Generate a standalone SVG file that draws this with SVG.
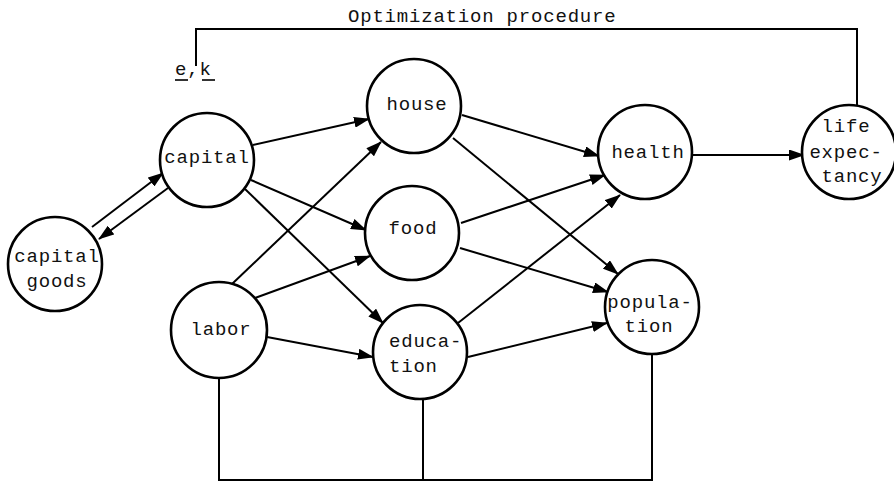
<svg xmlns="http://www.w3.org/2000/svg" width="894" height="482" viewBox="0 0 894 482">
<style>
.node{fill:#fff;stroke:#000;stroke-width:2.6}
.t{font-family:"Liberation Mono","DejaVu Sans Mono",monospace;font-size:19px;letter-spacing:0.8px;fill:#111}
.c{stroke:#000;stroke-width:2;fill:none}
.a{marker-end:url(#ah)}
</style>
<defs>
<marker id="ah" markerUnits="userSpaceOnUse" markerWidth="16" markerHeight="11" refX="15" refY="5.5" orient="auto">
<path d="M0,0 L16,5.5 L0,11 z" fill="#000"/>
</marker>
</defs>
<g id="connectors">
<polyline class="c" points="196,66 196,29 857,29 857,105"/>
<polyline class="c" points="219,378 219,480 652,480 652,355"/>
<line class="c" x1="423" y1="400" x2="423" y2="480"/>
<line class="c a" x1="92" y1="227" x2="163" y2="173"/>
<line class="c a" x1="168" y1="188" x2="99" y2="239"/>
<line class="c a" x1="253" y1="145" x2="369" y2="119"/>
<line class="c a" x1="251" y1="180" x2="366" y2="230"/>
<line class="c a" x1="245" y1="189" x2="383" y2="323"/>
<line class="c a" x1="232" y1="284" x2="381" y2="142"/>
<line class="c a" x1="255" y1="298" x2="370" y2="256"/>
<line class="c a" x1="267" y1="337" x2="373" y2="357"/>
<line class="c a" x1="462" y1="115" x2="599" y2="156"/>
<line class="c a" x1="453" y1="138" x2="618" y2="274"/>
<line class="c a" x1="461" y1="223" x2="605" y2="175"/>
<line class="c a" x1="460" y1="248" x2="608" y2="292"/>
<line class="c a" x1="458" y1="323" x2="620" y2="195"/>
<line class="c a" x1="468" y1="357" x2="607" y2="323"/>
<line class="c a" x1="693" y1="155" x2="804" y2="155"/>
</g>
<g id="optimization">
<text class="t" x="348" y="22">Optimization procedure</text>
</g>
<g id="ek">
<text class="t" x="175" y="75">e,k</text>
<line x1="175" y1="80" x2="188" y2="80" stroke="#000" stroke-width="1.6"/>
<line x1="202" y1="80" x2="215" y2="80" stroke="#000" stroke-width="1.6"/>
</g>
<g id="capital">
<circle class="node" cx="207" cy="160" r="47"/>
<text class="t" x="207" y="163" text-anchor="middle">capital</text>
</g>
<g id="capital-goods">
<circle class="node" cx="55" cy="264" r="47"/>
<text class="t" x="57" y="262" text-anchor="middle">capital</text>
<text class="t" x="57" y="287" text-anchor="middle">goods</text>
</g>
<g id="labor">
<circle class="node" cx="219" cy="330" r="48"/>
<text class="t" x="221" y="335" text-anchor="middle">labor</text>
</g>
<g id="house">
<circle class="node" cx="414" cy="106" r="47"/>
<text class="t" x="417" y="110" text-anchor="middle">house</text>
</g>
<g id="food">
<circle class="node" cx="412" cy="233" r="47"/>
<text class="t" x="413" y="234" text-anchor="middle">food</text>
</g>
<g id="education">
<circle class="node" cx="420" cy="352" r="47"/>
<text class="t" x="389" y="347">educa-</text>
<text class="t" x="389" y="372">tion</text>
</g>
<g id="health">
<circle class="node" cx="645" cy="152" r="47"/>
<text class="t" x="648" y="158" text-anchor="middle">health</text>
</g>
<g id="population">
<circle class="node" cx="652" cy="307" r="47"/>
<text class="t" x="650" y="308" text-anchor="middle">popula-</text>
<text class="t" x="649" y="332" text-anchor="middle">tion</text>
</g>
<g id="life-expectancy">
<circle class="node" cx="849" cy="152" r="47"/>
<text class="t" x="846" y="132" text-anchor="middle">life</text>
<text class="t" x="846" y="158" text-anchor="middle">expec-</text>
<text class="t" x="852" y="182" text-anchor="middle">tancy</text>
</g>
</svg>
